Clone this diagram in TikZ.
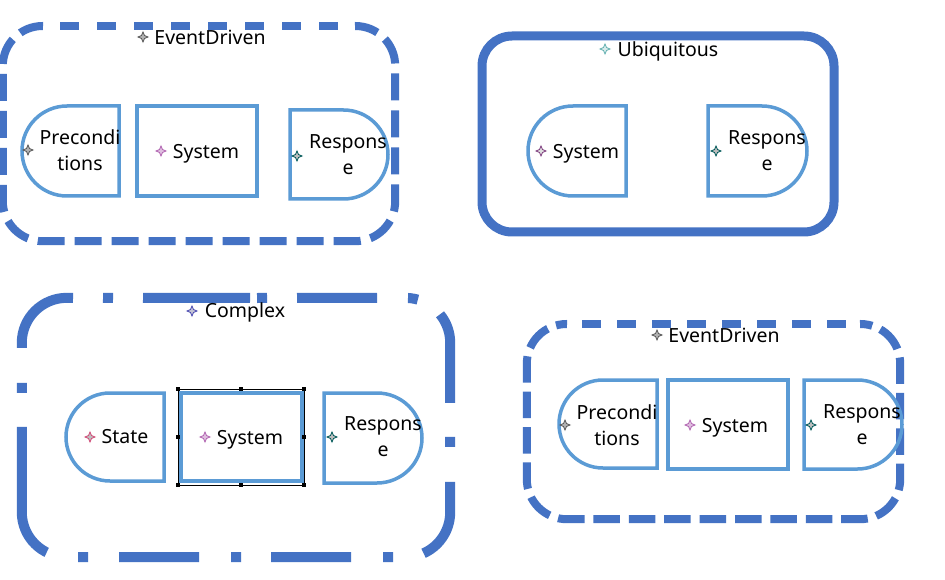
\documentclass[tikz,border=0pt]{standalone}
\usepackage{fontspec}
\setmainfont{Noto Sans}
\usetikzlibrary{shapes.misc}
\definecolor{outerblue}{HTML}{4472C4}
\definecolor{innerblue}{HTML}{5B9BD5}
\newcommand{\spark}[4]{%
  \draw[draw=#3,fill=#4,line width=0.8pt,line join=miter] (#1+5,#2) -- (#1+1.5,#2+1.5) -- (#1,#2+5) -- (#1-1.5,#2+1.5) -- (#1-5,#2) -- (#1-1.5,#2-1.5) -- (#1,#2-5) -- (#1+1.5,#2-1.5) -- cycle;}
\tikzset{
  txt/.style={font=\fontsize{19.5}{26}\selectfont, inner sep=0pt, align=center},
  container/.style={draw=outerblue, rectangle, inner sep=0pt},
  frame/.style={draw=outerblue, line cap=butt},
  inbox/.style={draw=innerblue, line width=3.5pt, rectangle, inner sep=0pt},
  dleft/.style={draw=innerblue, line width=3.5pt, rounded rectangle, rounded rectangle right arc=none, inner sep=0pt},
  dright/.style={draw=innerblue, line width=3.5pt, rounded rectangle, rounded rectangle left arc=none, inner sep=0pt},
  handle/.style={fill=black, minimum size=4pt, inner sep=0pt, rectangle}
}
\begin{document}
\begin{tikzpicture}[x=1pt,y=-1pt]
\useasboundingbox[fill=white] (0,0) rectangle (945,580);
% ---- container 1 (dashed)
\node[inner sep=0pt, minimum width=392pt, minimum height=215pt] (c1) at (199,133.5) {};
\draw[frame, line width=8pt, dash pattern=on 18.5pt off 18.5pt, dash phase=20pt] (43,26) -- (355,26);
\draw[frame, line width=8pt, rounded corners=40pt, dash pattern=on 27pt off 10pt, dash phase=3.4pt] (355,26) -- (c1.north east) -- (c1.south east) -- (c1.south west) -- (c1.north west) -- (43,26);
% ---- container 2 (solid)
\node[container, line width=9pt, rounded corners=30pt, minimum width=352pt, minimum height=196pt] (c2) at (658,134) {};
% ---- container 3 (dash dot)
\node[inner sep=0pt, minimum width=428pt, minimum height=259pt] (c3) at (236,427.5) {};
\coordinate (c3start) at (257,298);
\coordinate (c3end) at (67,557);
\draw[frame, line width=10pt, rounded corners=45pt, dash pattern=on 10pt off 30pt on 80pt off 31pt on 10pt off 27pt on 91pt off 34pt on 10pt off 35pt on 82pt off 31pt on 10pt off 32pt on 80pt off 30pt on 10pt off 32pt on 80pt off 31pt on 10pt off 100pt] (c3start) -- (c3.north east) -- (c3.south east) -- (c3end);
\draw[frame, line width=10pt, rounded corners=45pt, dash pattern=on 0pt off 7pt on 107pt off 30pt on 10pt off 30pt on 82pt off 35pt on 10pt off 34pt on 135pt off 100pt] (c3start) -- (c3.north west) -- (c3.south west) -- (c3end);
% ---- container 4 (dashed)
\node[inner sep=0pt, minimum width=373pt, minimum height=195pt] (c4) at (713.5,421.5) {};
\draw[frame, line width=8pt, dash pattern=on 18.5pt off 16.5pt, dash phase=20pt] (567,324) -- (860,324);
\draw[frame, line width=8pt, rounded corners=40pt, dash pattern=on 26.5pt off 8.9pt, dash phase=14.2pt] (860,324) -- (c4.north east) -- (c4.south east) -- (c4.south west) -- (c4.north west) -- (567,324);
% inner shapes C1
\node[dleft, minimum width=97pt, minimum height=90pt] (c1pre) at (70.5,151) {};
\node[inbox, minimum width=120pt, minimum height=90pt] (c1sys) at (197,151) {};
\node[dright, minimum width=98pt, minimum height=89pt] (c1res) at (339,154.5) {};
% C2
\node[dleft, minimum width=98pt, minimum height=90pt] (c2sys) at (577,151) {};
\node[dright, minimum width=99pt, minimum height=90pt] (c2res) at (757.5,151) {};
% C3
\node[dleft, minimum width=98pt, minimum height=88pt] (c3st) at (115,437) {};
\node[inbox, minimum width=121pt, minimum height=88pt] (c3sys) at (241.5,437) {};
\node[dright, minimum width=98pt, minimum height=90pt] (c3res) at (373,438) {};
% C4
\node[dleft, minimum width=98pt, minimum height=88pt] (c4pre) at (608,424) {};
\node[inbox, minimum width=120pt, minimum height=89pt] (c4sys) at (728,424.5) {};
\node[dright, minimum width=98pt, minimum height=89pt] (c4res) at (853,424.5) {};
% selection frame
\node[draw=black, line width=0.8pt, rectangle, inner sep=0pt, minimum width=126pt, minimum height=96pt] (sel) at (241,437) {};
\foreach \a in {north west,north,north east,west,east,south west,south,south east}
  \node[handle] (h-\a) at (sel.\a) {};
% texts
\node[txt] (t1) at (210,37) {EventDriven};
\node[txt] (t1pre) at (80,150) {Precondi\\tions};
\node[txt] (t1sys) at (206,153.5) {System};
\node[txt] (t1res) at (348,155) {Respons\\e};
\node[txt] (t2) at (668,51) {Ubiquitous};
\node[txt] (t2sys) at (586,153.5) {System};
\node[txt] (t2res) at (767,151) {Respons\\e};
\node[txt] (t3) at (245,312.5) {Complex};
\node[txt] (t3st) at (125,437) {State};
\node[txt] (t3sys) at (250,439.5) {System};
\node[txt] (t3res) at (383,437) {Respons\\e};
\node[txt] (t4) at (724,335) {EventDriven};
\node[txt] (t4pre) at (617,425) {Precondi\\tions};
\node[txt] (t4sys) at (735,427.5) {System};
\node[txt] (t4res) at (862,425) {Respons\\e};
% sparks
\spark{143}{37}{gray!70!black}{gray!60}
\spark{28}{150}{gray!70!black}{gray!60}
\spark{161}{151}{violet!60}{violet!25}
\spark{297}{156}{teal!70!black}{gray!50}
\spark{605}{49}{teal!60}{teal!15}
\spark{541}{151}{violet!50!gray}{gray!25}
\spark{716}{151}{teal!70!black}{gray!50}
\spark{192}{311}{blue!40!gray}{blue!15!gray!40}
\spark{90}{437}{purple!70}{gray!50}
\spark{205}{437}{violet!60}{violet!25}
\spark{332}{437}{teal!70!black}{gray!50}
\spark{657}{335}{gray!70!black}{gray!60}
\spark{565}{425}{gray!70!black}{gray!60}
\spark{690}{425}{violet!60}{violet!25}
\spark{811}{425}{teal!70!black}{gray!50}
\end{tikzpicture}
\end{document}
